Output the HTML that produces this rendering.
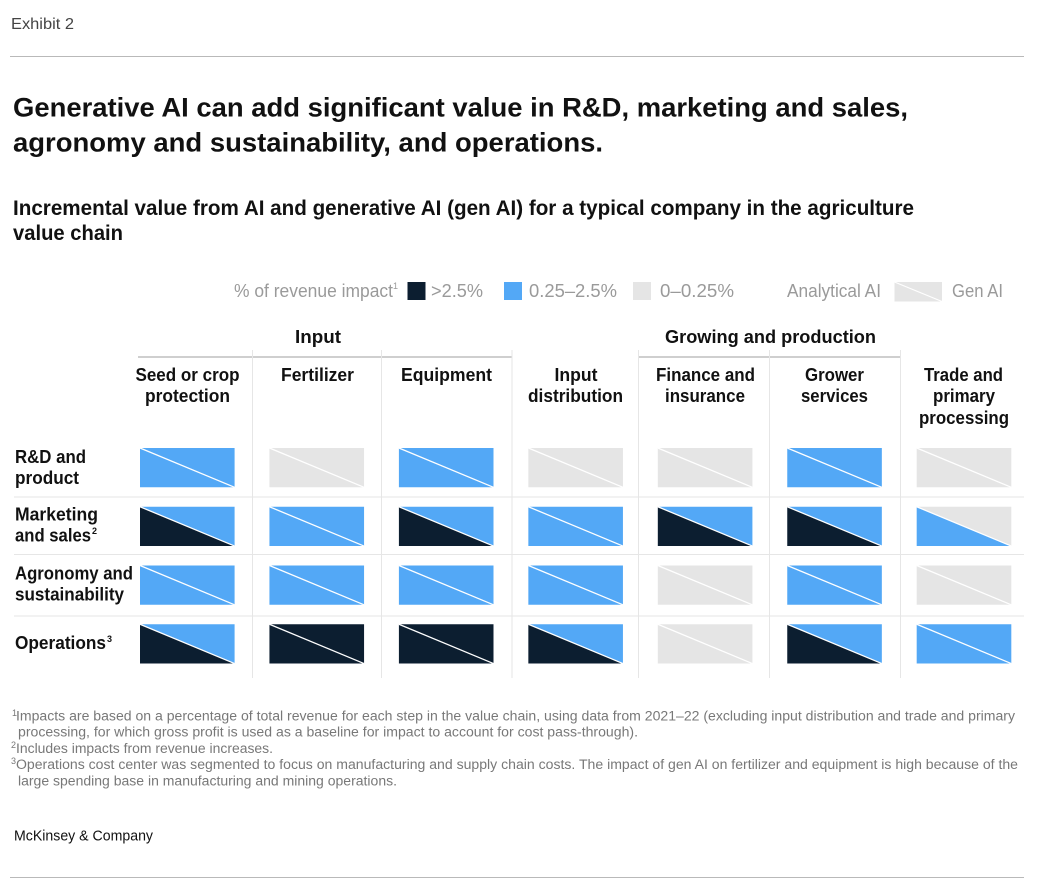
<!DOCTYPE html>
<html lang="en">
<head>
<meta charset="utf-8">
<title>Exhibit 2</title>
<style>
html,body{margin:0;padding:0;background:#fff;width:1041px;height:884px;overflow:hidden}
svg{display:block;font-family:"Liberation Sans",Arial,sans-serif}
.h{font-weight:700;fill:#111}
.title{font-size:27px}
.sub{font-size:21px}
.lab{font-size:18px}
.leg{font-size:18px;fill:#9a9a9a}
.fn{font-size:13.5px;fill:#787878}
.sup{font-size:9px}
.grid{stroke:#e6e6e6;stroke-width:1}
.rule{stroke:#b9b9b9;stroke-width:1}
.grp{stroke:#cfcfcf;stroke-width:2}
</style>
</head>
<body>
<svg id="chart" width="1041" height="884" viewBox="0 0 1041 884" xmlns="http://www.w3.org/2000/svg">
  <rect width="1041" height="884" fill="#fff"/>
  <text x="11" y="29" font-size="16" fill="#444" textLength="63" lengthAdjust="spacingAndGlyphs">Exhibit 2</text>
  <line class="rule" x1="10" x2="1024" y1="56.5" y2="56.5"/>

  <text class="h title" x="13" y="116.5" textLength="895" lengthAdjust="spacingAndGlyphs">Generative AI can add significant value in R&amp;D, marketing and sales,</text>
  <text class="h title" x="13" y="151.5" textLength="590" lengthAdjust="spacingAndGlyphs">agronomy and sustainability, and operations.</text>
  <text class="h sub" x="13" y="215" textLength="901" lengthAdjust="spacingAndGlyphs">Incremental value from AI and generative AI (gen AI) for a typical company in the agriculture</text>
  <text class="h sub" x="13" y="240" textLength="110" lengthAdjust="spacingAndGlyphs">value chain</text>

  <g>
    <text class="leg" x="234" y="297" textLength="159" lengthAdjust="spacingAndGlyphs">% of revenue impact</text>
    <text class="leg sup" x="393" y="289">1</text>
    <rect x="407.5" y="282" width="18" height="18" fill="#0c1e30"/>
    <text class="leg" x="431" y="297" textLength="52" lengthAdjust="spacingAndGlyphs">&gt;2.5%</text>
    <rect x="504" y="282" width="18" height="18" fill="#53a8f6"/>
    <text class="leg" x="529" y="297" textLength="88" lengthAdjust="spacingAndGlyphs">0.25–2.5%</text>
    <rect x="633" y="282" width="18" height="18" fill="#e5e5e5"/>
    <text class="leg" x="660" y="297" textLength="74" lengthAdjust="spacingAndGlyphs">0–0.25%</text>
    <text class="leg" x="787" y="297" textLength="94" lengthAdjust="spacingAndGlyphs">Analytical AI</text>
    <rect x="894.5" y="282" width="47.5" height="19.5" fill="#e5e5e5"/>
    <line x1="894.5" y1="282" x2="942" y2="301.5" stroke="#fff" stroke-width="1.2"/>
    <text class="leg" x="952" y="297" textLength="51" lengthAdjust="spacingAndGlyphs">Gen AI</text>
  </g>

  <text class="h lab" x="295" y="343" textLength="46" lengthAdjust="spacingAndGlyphs">Input</text>
  <text class="h lab" x="665" y="343" textLength="211" lengthAdjust="spacingAndGlyphs">Growing and production</text>
  <line class="grp" x1="138" x2="512" y1="357" y2="357"/>
  <line class="grp" x1="639" x2="901" y1="357" y2="357"/>

  <g>
    <text class="h lab" x="135.5" y="381" textLength="104" lengthAdjust="spacingAndGlyphs">Seed or crop</text>
    <text class="h lab" x="145" y="402" textLength="85" lengthAdjust="spacingAndGlyphs">protection</text>
    <text class="h lab" x="281" y="381" textLength="73" lengthAdjust="spacingAndGlyphs">Fertilizer</text>
    <text class="h lab" x="401" y="381" textLength="91" lengthAdjust="spacingAndGlyphs">Equipment</text>
    <text class="h lab" x="554.5" y="381" textLength="43" lengthAdjust="spacingAndGlyphs">Input</text>
    <text class="h lab" x="528" y="402" textLength="95" lengthAdjust="spacingAndGlyphs">distribution</text>
    <text class="h lab" x="656" y="381" textLength="99" lengthAdjust="spacingAndGlyphs">Finance and</text>
    <text class="h lab" x="665" y="402" textLength="80" lengthAdjust="spacingAndGlyphs">insurance</text>
    <text class="h lab" x="805" y="381" textLength="59" lengthAdjust="spacingAndGlyphs">Grower</text>
    <text class="h lab" x="801" y="402" textLength="67" lengthAdjust="spacingAndGlyphs">services</text>
    <text class="h lab" x="924" y="381" textLength="79" lengthAdjust="spacingAndGlyphs">Trade and</text>
    <text class="h lab" x="933" y="402" textLength="62" lengthAdjust="spacingAndGlyphs">primary</text>
    <text class="h lab" x="919" y="424" textLength="90" lengthAdjust="spacingAndGlyphs">processing</text>
  </g>

  <g>
    <text class="h lab" x="15" y="463" textLength="71" lengthAdjust="spacingAndGlyphs">R&amp;D and</text>
    <text class="h lab" x="15" y="484" textLength="64" lengthAdjust="spacingAndGlyphs">product</text>
    <text class="h lab" x="15" y="520.5" textLength="83" lengthAdjust="spacingAndGlyphs">Marketing</text>
    <text class="h lab" x="15" y="541.5" textLength="76" lengthAdjust="spacingAndGlyphs">and sales</text>
    <text class="h sup" x="92" y="534" font-size="10">2</text>
    <text class="h lab" x="15" y="579.5" textLength="118" lengthAdjust="spacingAndGlyphs">Agronomy and</text>
    <text class="h lab" x="15" y="600.5" textLength="109" lengthAdjust="spacingAndGlyphs">sustainability</text>
    <text class="h lab" x="15" y="649" textLength="91" lengthAdjust="spacingAndGlyphs">Operations</text>
    <text class="h sup" x="107" y="642" font-size="10">3</text>
  </g>

  <g id="gridlines">
    <line class="grid" x1="252.5" x2="252.5" y1="350" y2="678"/>
    <line class="grid" x1="381.5" x2="381.5" y1="350" y2="678"/>
    <line class="grid" x1="512" x2="512" y1="350" y2="678"/>
    <line class="grid" x1="638.5" x2="638.5" y1="350" y2="678"/>
    <line class="grid" x1="769.5" x2="769.5" y1="350" y2="678"/>
    <line class="grid" x1="900.5" x2="900.5" y1="350" y2="678"/>
    <line class="grid" x1="14" x2="1024" y1="497" y2="497"/>
    <line class="grid" x1="14" x2="1024" y1="554.5" y2="554.5"/>
    <line class="grid" x1="14" x2="1024" y1="616" y2="616"/>
  </g>

  <g id="cells"></g>

  <g>
    <text class="fn sup" x="12" y="716">1</text>
    <text class="fn" x="16" y="720.5" textLength="999" lengthAdjust="spacingAndGlyphs">Impacts are based on a percentage of total revenue for each step in the value chain, using data from 2021–22 (excluding input distribution and trade and primary</text>
    <text class="fn" x="18" y="736.5" textLength="620" lengthAdjust="spacingAndGlyphs">processing, for which gross profit is used as a baseline for impact to account for cost pass-through).</text>
    <text class="fn sup" x="11" y="748">2</text>
    <text class="fn" x="16" y="753" textLength="257" lengthAdjust="spacingAndGlyphs">Includes impacts from revenue increases.</text>
    <text class="fn sup" x="11" y="764">3</text>
    <text class="fn" x="16" y="769" textLength="1002" lengthAdjust="spacingAndGlyphs">Operations cost center was segmented to focus on manufacturing and supply chain costs. The impact of gen AI on fertilizer and equipment is high because of the</text>
    <text class="fn" x="18" y="785.5" textLength="379" lengthAdjust="spacingAndGlyphs">large spending base in manufacturing and mining operations.</text>
  </g>

  <text x="14" y="840.5" font-size="14.5" fill="#111" textLength="139" lengthAdjust="spacingAndGlyphs">McKinsey &amp; Company</text>
  <line class="rule" x1="10" x2="1024" y1="877.5" y2="877.5"/>
</svg>
<script>
// Value chain steps and business functions
const columns = ["Seed or crop protection", "Fertilizer", "Equipment", "Input distribution", "Finance and insurance", "Grower services", "Trade and primary processing"];
const rows = ["R&D and product", "Marketing and sales", "Agronomy and sustainability", "Operations"];
// Impact band per step: 2 = >2.5%, 1 = 0.25-2.5%, 0 = 0-0.25%
const analyticalRD = [1, 0, 1, 0, 0, 1, 0];
const genRD = [1, 0, 1, 0, 0, 1, 0];
const analyticalMarketing = [2, 1, 2, 1, 2, 2, 1];
const genMarketing = [1, 1, 1, 1, 1, 1, 0];
const analyticalAgronomy = [1, 1, 1, 1, 0, 1, 0];
const genAgronomy = [1, 1, 1, 1, 0, 1, 0];
const analyticalOperations = [2, 2, 2, 2, 0, 2, 1];
const genOperations = [1, 2, 2, 1, 0, 1, 1];

const analytical = [analyticalRD, analyticalMarketing, analyticalAgronomy, analyticalOperations];
const gen = [genRD, genMarketing, genAgronomy, genOperations];

const NS = "http://www.w3.org/2000/svg";
const colorForBand = function (band) {
  if (band >= 2) return "#0c1e30";
  if (band >= 1) return "#53a8f6";
  return "#e5e5e5";
};
const xScale = function (i) { return 140 + i * 129.45; };
const yScale = function (j) { return 448 + j * 58.75; };
const cellW = 94.6;
const cellH = 39.3;
const cellsGroup = document.getElementById("cells");

rows.forEach(function (rowName, j) {
  columns.forEach(function (colName, i) {
    const x = xScale(i);
    const y = yScale(j);

    const lower = document.createElementNS(NS, "polygon");
    lower.setAttribute("points", x + "," + y + " " + (x + cellW) + "," + (y + cellH) + " " + x + "," + (y + cellH));
    lower.setAttribute("fill", colorForBand(analytical[j][i]));
    
    
    cellsGroup.appendChild(lower);

    const upper = document.createElementNS(NS, "polygon");
    upper.setAttribute("points", x + "," + y + " " + (x + cellW) + "," + y + " " + (x + cellW) + "," + (y + cellH));
    upper.setAttribute("fill", colorForBand(gen[j][i]));
    
    
    cellsGroup.appendChild(upper);

    const diag = document.createElementNS(NS, "line");
    diag.setAttribute("x1", x);
    diag.setAttribute("y1", y);
    diag.setAttribute("x2", x + cellW);
    diag.setAttribute("y2", y + cellH);
    diag.setAttribute("stroke", "#fff");
    diag.setAttribute("stroke-width", "1.3");
    
    
    cellsGroup.appendChild(diag);
  });
});
</script>
</body>
</html>
